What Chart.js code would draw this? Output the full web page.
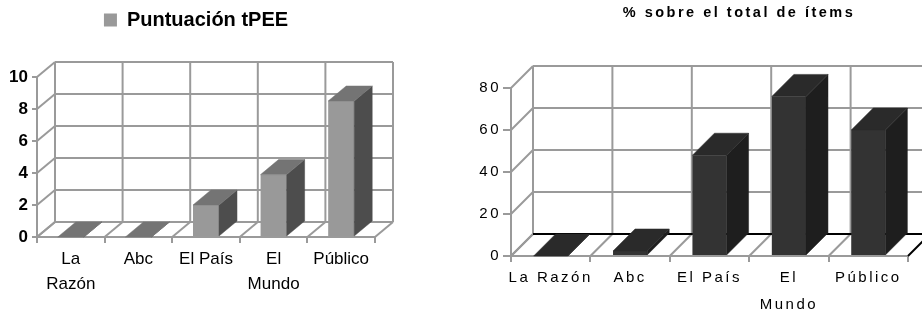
<!DOCTYPE html>
<html><head><meta charset="utf-8">
<script src="https://cdn.jsdelivr.net/npm/chart.js@4.4.1/dist/chart.umd.min.js"></script>
<style>
html,body{margin:0;padding:0;background:#fff;width:922px;height:311px;overflow:hidden;position:relative}
#c1{position:absolute;left:0;top:0}
#c2{position:absolute;left:440px;top:0}
</style></head><body>
<canvas id="c1" width="400" height="311"></canvas>
<canvas id="c2" width="598" height="311"></canvas>
<script>
// ---- data ----
const categoriesLeft = [['La', 'Razón'], 'Abc', 'El País', ['El', 'Mundo'], 'Público'];
const seriesLeftName = 'Puntuación tPEE';
const seriesLeft = [0, 0, 2, 3.9, 8.5];
const yTicksLeft = [0, 2, 4, 6, 8, 10];

const categoriesRight = ['La Razón', 'Abc', 'El País', ['El', 'Mundo'], 'Público'];
const titleRight = '% sobre el total de ítems';
const seriesRight = [0, 2.4, 48, 76, 60];
const yTicksRight = [0, 20, 40, 60, 80];

Chart.defaults.font.family = "'Liberation Sans', Arial, sans-serif";

// 3D walls and bar faces, drawn from the chart's own scales and bar elements
const box3d = {
  id: 'box3d',
  beforeDatasetsDraw(chart, args, o) {
    const {ctx, chartArea: a, scales} = chart;
    const xs = scales.x, ys = scales.y;
    const dx = o.dx, dy = o.dy;
    const yTop = ys.getPixelForValue(ys.max), y0 = ys.getPixelForValue(ys.min);
    const n = xs.getLabels().length;
    const bounds = [];
    for (let i = 0; i <= n; i++) bounds.push(xs.getPixelForValue(i - 0.5));
    const seg = (x1, y1, x2, y2, c) => { ctx.strokeStyle = c; ctx.beginPath(); ctx.moveTo(x1, y1); ctx.lineTo(x2, y2); ctx.stroke(); };
    ctx.save();
    ctx.lineWidth = o.gridWidth;
    ys.ticks.forEach(t => {
      const py = ys.getPixelForValue(t.value);
      seg(a.left, py, a.left + dx, py + dy, o.gridColor);
      if (t.value !== ys.min) seg(a.left + dx, py + dy, bounds[n] + dx, py + dy, o.gridColor);
    });
    bounds.forEach((bx, i) => {
      seg(bx + dx, yTop + dy, bx + dx, y0 + dy, o.gridColor);
      seg(bx, y0, bx + dx, y0 + dy, i === n ? o.lastDiagColor : o.gridColor);
    });
    seg(a.left + dx, y0 + dy, bounds[n] + dx, y0 + dy, o.floorBackColor);
    ctx.restore();
  },
  afterDatasetsDraw(chart, args, o) {
    const {ctx} = chart;
    const dx = o.dx, dy = o.dy;
    const poly = (pts, c) => {
      ctx.fillStyle = c; ctx.strokeStyle = c; ctx.lineWidth = 0.5;
      ctx.beginPath(); ctx.moveTo(pts[0][0], pts[0][1]);
      for (let i = 1; i < pts.length; i++) ctx.lineTo(pts[i][0], pts[i][1]);
      ctx.closePath(); ctx.fill(); ctx.stroke();
    };
    ctx.save();
    chart.getDatasetMeta(0).data.forEach(bar => {
      const {x: cx, y: ty, base, width} = bar.getProps(['x', 'y', 'base', 'width'], true);
      const x0 = cx - width / 2, x1 = cx + width / 2;
      poly([[x1, ty], [x1 + dx, ty + dy], [x1 + dx, base + dy], [x1, base]], o.sideColor);
      poly([[x0, ty], [x1, ty], [x1 + dx, ty + dy], [x0 + dx, ty + dy]], o.topColor);
    });
    ctx.restore();
  }
};

const spacing = {
  id: 'spacing',
  beforeDraw(chart, args, o) { if (o && o.value) chart.ctx.letterSpacing = o.value; }
};

const hiddenAxis = (pos, size) => ({
  type: 'linear', position: pos, display: true,
  ticks: {display: false}, grid: {display: false}, border: {display: false},
  afterFit(s) { if (pos === 'top' || pos === 'bottom') s.height = size; else s.width = size; }
});

// ---- left chart ----
new Chart(document.getElementById('c1'), {
  type: 'bar',
  data: {
    labels: categoriesLeft,
    datasets: [{
      label: seriesLeftName, data: seriesLeft, backgroundColor: '#999999', borderWidth: 0,
      xAxisID: 'x', yAxisID: 'y', categoryPercentage: 1, barPercentage: 0.385
    }]
  },
  options: {
    responsive: false, animation: false, events: [],
    layout: {padding: {left: 0, right: 8, top: 0, bottom: 0}},
    plugins: {
      legend: {display: true, position: 'top',
        labels: {boxWidth: 13, boxHeight: 13, padding: 10, color: '#000', font: {size: 20, weight: 'bold'}}},
      tooltip: {enabled: false},
      box3d: {dx: 18, dy: -15, gridColor: '#9a9a9a', gridWidth: 2, floorBackColor: '#9a9a9a',
        lastDiagColor: '#9a9a9a', topColor: '#747474', sideColor: '#4d4d4d'}
    },
    scales: {
      x: {type: 'category', position: 'bottom',
        grid: {display: true, drawOnChartArea: false, drawTicks: true, tickLength: 6, color: '#9a9a9a', lineWidth: 2, offset: true},
        border: {display: true, color: '#9a9a9a', width: 2},
        ticks: {color: '#000', font: {size: 17, lineHeight: 25 / 17}, padding: 4, maxRotation: 0, autoSkip: false},
        afterFit(s) { s.height = 74; }},
      y: {type: 'linear', position: 'left', min: yTicksLeft[0], max: yTicksLeft[yTicksLeft.length - 1],
        ticks: {stepSize: yTicksLeft[1] - yTicksLeft[0], color: '#000', font: {size: 17, weight: 'bold'}, padding: 4},
        grid: {drawOnChartArea: false, tickLength: 5, color: '#9a9a9a', lineWidth: 2},
        border: {display: true, color: '#9a9a9a', width: 2},
        afterFit(s) { s.width = 37; }},
      xTop: hiddenAxis('top', 37),
      yRight: hiddenAxis('right', 17)
    }
  },
  plugins: [box3d]
});

// ---- right chart ----
new Chart(document.getElementById('c2'), {
  type: 'bar',
  data: {
    labels: categoriesRight,
    datasets: [{
      label: titleRight, data: seriesRight, backgroundColor: '#333333', borderWidth: 0,
      xAxisID: 'x', yAxisID: 'y', categoryPercentage: 1, barPercentage: 0.43
    }]
  },
  options: {
    responsive: false, animation: false, events: [],
    layout: {padding: 0},
    plugins: {
      legend: {display: false},
      title: {display: true, text: titleRight, color: '#000', font: {size: 14.5, weight: 'bold'}, padding: {top: 4, bottom: 0}},
      tooltip: {enabled: false},
      spacing: {value: '2.5px'},
      box3d: {dx: 22, dy: -22, gridColor: '#9a9a9a', gridWidth: 2, floorBackColor: '#000',
        lastDiagColor: '#000', topColor: '#2a2a2a', sideColor: '#1e1e1e'}
    },
    scales: {
      x: {type: 'category', position: 'bottom',
        grid: {display: true, drawOnChartArea: false, drawTicks: true, tickLength: 6, color: '#9a9a9a', lineWidth: 2, offset: true},
        border: {display: true, color: '#9a9a9a', width: 2},
        ticks: {color: '#000', font: {size: 15, lineHeight: 27 / 15}, padding: 2.5, maxRotation: 0, autoSkip: false},
        afterFit(s) { s.height = 55; }},
      y: {type: 'linear', position: 'left', min: yTicksRight[0], max: yTicksRight[yTicksRight.length - 1],
        ticks: {stepSize: yTicksRight[1] - yTicksRight[0], color: '#000', font: {size: 15}, padding: 2},
        grid: {drawOnChartArea: false, tickLength: 8, color: '#9a9a9a', lineWidth: 2},
        border: {display: true, color: '#9a9a9a', width: 2},
        afterFit(s) { s.width = 71; }},
      xTop: hiddenAxis('top', 66.6),
      yRight: hiddenAxis('right', 130)
    }
  },
  plugins: [box3d, spacing]
});
</script>
</body></html>
